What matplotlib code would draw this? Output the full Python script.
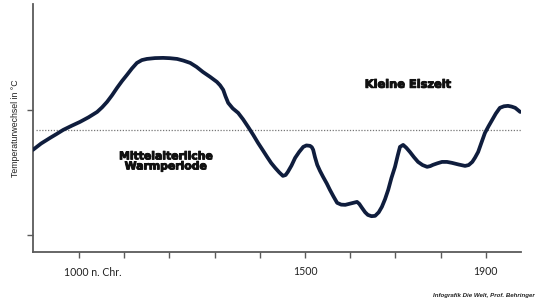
import matplotlib
matplotlib.use("Agg")
import matplotlib.pyplot as plt
import matplotlib.patheffects as pe

# ---------------------------------------------------------
# Daten
# ---------------------------------------------------------

jahre = [898, 916, 936, 950, 965, 984, 1002, 1021, 1040, 1051, 1062, 1073,
         1084, 1095, 1106, 1117, 1128, 1139, 1150, 1168, 1186, 1201, 1217,
         1231, 1246, 1260, 1274, 1290, 1305, 1312, 1319, 1324, 1330, 1340,
         1352, 1363, 1374, 1385, 1396, 1406, 1416, 1425, 1434, 1443, 1451,
         1457, 1462, 1470, 1478, 1487, 1496, 1503, 1511, 1515, 1518, 1522,
         1527, 1533, 1540, 1548, 1555, 1563, 1571, 1580, 1589, 1602, 1615,
         1620, 1626, 1633, 1639, 1647, 1655, 1663, 1670, 1677, 1684, 1691,
         1699, 1705, 1710, 1717, 1724, 1732, 1741, 1750, 1760, 1770, 1777,
         1783, 1793, 1803, 1814, 1825, 1840, 1854, 1862, 1870, 1876, 1883,
         1890, 1898, 1906, 1914, 1922, 1931, 1940, 1949, 1957, 1965, 1976]

temperatur = [-0.19, -0.13, -0.076, -0.04, 0.0, 0.04, 0.076, 0.12, 0.171,
              0.215, 0.267, 0.33, 0.40, 0.465, 0.524, 0.585, 0.638, 0.665,
              0.676, 0.684, 0.686, 0.683, 0.676, 0.66, 0.638, 0.60, 0.552,
              0.505, 0.457, 0.425, 0.381, 0.32, 0.257, 0.205, 0.162, 0.10,
              0.029, -0.045, -0.124, -0.19, -0.257, -0.315, -0.362, -0.405,
              -0.438, -0.43, -0.40, -0.34, -0.267, -0.21, -0.162, -0.148,
              -0.152, -0.165, -0.19, -0.26, -0.333, -0.39, -0.448, -0.51,
              -0.571, -0.635, -0.695, -0.712, -0.714, -0.70, -0.686, -0.705,
              -0.743, -0.785, -0.81, -0.822, -0.819, -0.785, -0.733, -0.66,
              -0.571, -0.46, -0.352, -0.245, -0.162, -0.143, -0.17, -0.21,
              -0.26, -0.305, -0.335, -0.352, -0.345, -0.333, -0.318, -0.305,
              -0.305, -0.314, -0.33, -0.343, -0.335, -0.305, -0.265, -0.21,
              -0.125, -0.029, 0.035, 0.095, 0.155, 0.21, 0.225, 0.229, 0.222,
              0.21, 0.171]

x_ticks = [1000, 1100, 1200, 1300, 1400, 1500, 1600, 1700, 1800, 1900]
x_labels = ["", "", "", "", "", "1500", "", "", "", "1900"]
y_ticks = [-1.0, 0.19]
mittelwert = 0.0

# ---------------------------------------------------------
# Grafik
# ---------------------------------------------------------

fig = plt.figure(figsize=(5.4, 3.02), dpi=100)
ax = fig.add_axes([0.061, 0.166, 0.904, 0.821])

grau = "#5a5a5a"
fett = [pe.withStroke(linewidth=0.7, foreground="#111111")]

ax.plot(jahre, temperatur, color="#0f1d3d", linewidth=2.7,
        solid_capstyle="round", solid_joinstyle="round", zorder=3)

ax.axhline(mittelwert, xmin=0.006, xmax=1.0, color="#777777",
           linestyle=(0, (1, 1.3)), linewidth=0.9, zorder=2)

ax.set_xlim(898, 1978)
ax.set_ylim(-1.162, 1.2)

ax.set_xticks(x_ticks)
ax.set_xticklabels(x_labels, fontsize=7.6, family=["Lato", "DejaVu Sans"])
ax.set_yticks(y_ticks)
ax.set_yticklabels([])

ax.tick_params(axis="both", colors=grau, length=4, width=1)
ax.tick_params(axis="x", labelcolor="#222222", pad=6.5)

ax.annotate("1000 n. Chr.", xy=(1000, 0), xycoords=("data", "axes fraction"),
            xytext=(10, -11), textcoords="offset points",
            ha="center", va="top", fontsize=7.6,
            family=["Lato", "DejaVu Sans"], color="#222222")

for seite in ["top", "right"]:
    ax.spines[seite].set_visible(False)
for seite in ["left", "bottom"]:
    ax.spines[seite].set_color(grau)
    ax.spines[seite].set_linewidth(1.3)

ax.set_ylabel("Temperaturwechsel in °C", fontsize=6.3,
              family=["Liberation Sans", "DejaVu Sans"],
              color="#222222", labelpad=2)

ax.text(1728, 0.43, "Kleine Eiszeit", ha="center", va="center",
        fontsize=8.2, fontweight="bold", family="DejaVu Sans",
        color="#111111", path_effects=fett)

ax.text(1192, -0.30, "Mittelalterliche\nWarmperiode", ha="center",
        va="center", fontsize=7.8, fontweight="bold", linespacing=1.0,
        family="DejaVu Sans", color="#111111", path_effects=fett)

fig.text(0.99, 0.02, "Infografik Die Welt, Prof. Behringer", ha="right",
         va="center", fontsize=4.4, style="italic", fontweight="bold",
         family=["Liberation Sans", "DejaVu Sans"], color="#222222")

plt.savefig("out.png", dpi=100)
plt.close()
